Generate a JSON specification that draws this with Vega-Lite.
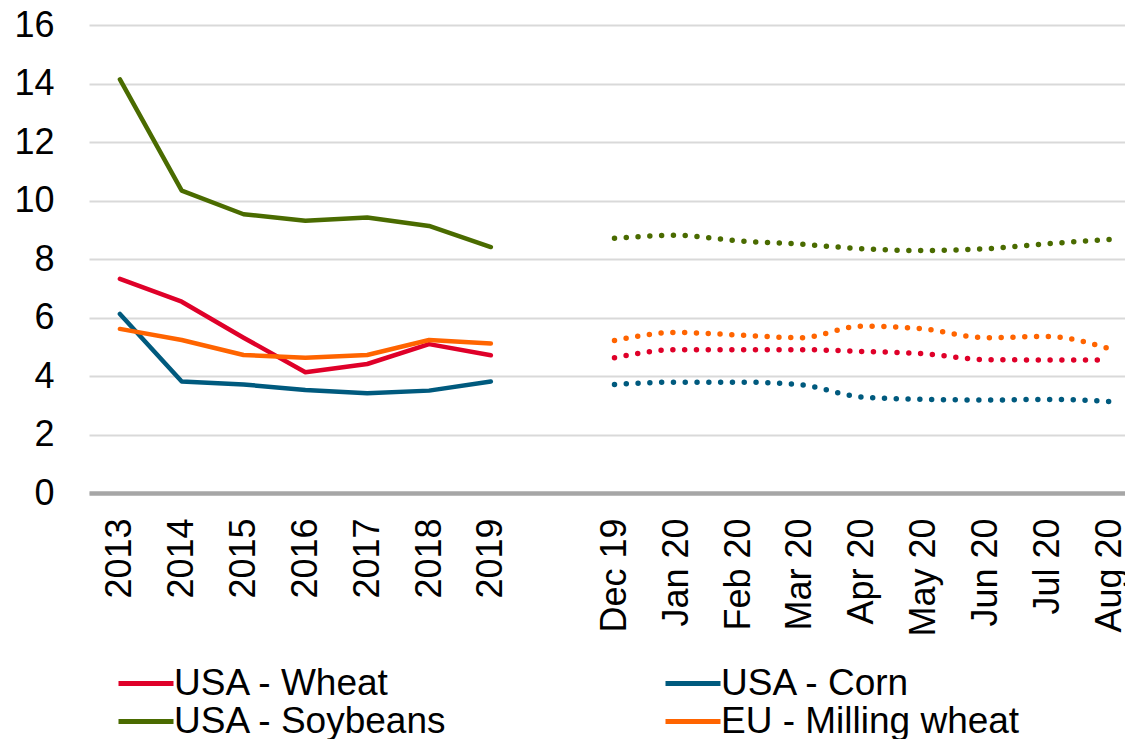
{
  "$schema": "https://vega.github.io/schema/vega-lite/v6.json",
  "width": 1051,
  "height": 468,
  "padding": {"left": 13, "top": 7, "right": 0, "bottom": 0},
  "background": "white",
  "config": {
    "view": {"stroke": null},
    "font": "Liberation Sans",
    "axis": {"labelFont": "Liberation Sans", "labelFontSize": 36, "labelColor": "#000000", "title": null},
    "legend": {"labelFont": "Liberation Sans", "labelFontSize": 37, "labelColor": "#000000"}
  },
  "data": {
    "values": [
      {"series": "USA - Wheat", "period": "2013", "kind": "annual", "value": 7.32},
      {"series": "USA - Wheat", "period": "2014", "kind": "annual", "value": 6.54},
      {"series": "USA - Wheat", "period": "2015", "kind": "annual", "value": 5.31},
      {"series": "USA - Wheat", "period": "2016", "kind": "annual", "value": 4.13},
      {"series": "USA - Wheat", "period": "2017", "kind": "annual", "value": 4.41},
      {"series": "USA - Wheat", "period": "2018", "kind": "annual", "value": 5.09},
      {"series": "USA - Wheat", "period": "2019", "kind": "annual", "value": 4.71},
      {"series": "USA - Corn", "period": "2013", "kind": "annual", "value": 6.12},
      {"series": "USA - Corn", "period": "2014", "kind": "annual", "value": 3.81},
      {"series": "USA - Corn", "period": "2015", "kind": "annual", "value": 3.71},
      {"series": "USA - Corn", "period": "2016", "kind": "annual", "value": 3.52},
      {"series": "USA - Corn", "period": "2017", "kind": "annual", "value": 3.41},
      {"series": "USA - Corn", "period": "2018", "kind": "annual", "value": 3.50},
      {"series": "USA - Corn", "period": "2019", "kind": "annual", "value": 3.81},
      {"series": "USA - Soybeans", "period": "2013", "kind": "annual", "value": 14.14},
      {"series": "USA - Soybeans", "period": "2014", "kind": "annual", "value": 10.34},
      {"series": "USA - Soybeans", "period": "2015", "kind": "annual", "value": 9.53},
      {"series": "USA - Soybeans", "period": "2016", "kind": "annual", "value": 9.31},
      {"series": "USA - Soybeans", "period": "2017", "kind": "annual", "value": 9.42},
      {"series": "USA - Soybeans", "period": "2018", "kind": "annual", "value": 9.13},
      {"series": "USA - Soybeans", "period": "2019", "kind": "annual", "value": 8.41},
      {"series": "EU - Milling wheat", "period": "2013", "kind": "annual", "value": 5.61},
      {"series": "EU - Milling wheat", "period": "2014", "kind": "annual", "value": 5.23},
      {"series": "EU - Milling wheat", "period": "2015", "kind": "annual", "value": 4.72},
      {"series": "EU - Milling wheat", "period": "2016", "kind": "annual", "value": 4.62},
      {"series": "EU - Milling wheat", "period": "2017", "kind": "annual", "value": 4.72},
      {"series": "EU - Milling wheat", "period": "2018", "kind": "annual", "value": 5.23},
      {"series": "EU - Milling wheat", "period": "2019", "kind": "annual", "value": 5.11},
      {"series": "USA - Wheat", "period": "Dec 19", "kind": "monthly", "value": 4.62},
      {"series": "USA - Wheat", "period": "Jan 20", "kind": "monthly", "value": 4.90},
      {"series": "USA - Wheat", "period": "Feb 20", "kind": "monthly", "value": 4.90},
      {"series": "USA - Wheat", "period": "Mar 20", "kind": "monthly", "value": 4.90},
      {"series": "USA - Wheat", "period": "Apr 20", "kind": "monthly", "value": 4.84},
      {"series": "USA - Wheat", "period": "May 20", "kind": "monthly", "value": 4.76},
      {"series": "USA - Wheat", "period": "Jun 20", "kind": "monthly", "value": 4.56},
      {"series": "USA - Wheat", "period": "Jul 20", "kind": "monthly", "value": 4.55},
      {"series": "USA - Wheat", "period": "Aug 20", "kind": "monthly", "value": 4.55},
      {"series": "USA - Corn", "period": "Dec 19", "kind": "monthly", "value": 3.71},
      {"series": "USA - Corn", "period": "Jan 20", "kind": "monthly", "value": 3.79},
      {"series": "USA - Corn", "period": "Feb 20", "kind": "monthly", "value": 3.79},
      {"series": "USA - Corn", "period": "Mar 20", "kind": "monthly", "value": 3.70},
      {"series": "USA - Corn", "period": "Apr 20", "kind": "monthly", "value": 3.28},
      {"series": "USA - Corn", "period": "May 20", "kind": "monthly", "value": 3.20},
      {"series": "USA - Corn", "period": "Jun 20", "kind": "monthly", "value": 3.18},
      {"series": "USA - Corn", "period": "Jul 20", "kind": "monthly", "value": 3.20},
      {"series": "USA - Corn", "period": "Aug 20", "kind": "monthly", "value": 3.13},
      {"series": "USA - Soybeans", "period": "Dec 19", "kind": "monthly", "value": 8.71},
      {"series": "USA - Soybeans", "period": "Jan 20", "kind": "monthly", "value": 8.81},
      {"series": "USA - Soybeans", "period": "Feb 20", "kind": "monthly", "value": 8.62},
      {"series": "USA - Soybeans", "period": "Mar 20", "kind": "monthly", "value": 8.51},
      {"series": "USA - Soybeans", "period": "Apr 20", "kind": "monthly", "value": 8.35},
      {"series": "USA - Soybeans", "period": "May 20", "kind": "monthly", "value": 8.29},
      {"series": "USA - Soybeans", "period": "Jun 20", "kind": "monthly", "value": 8.35},
      {"series": "USA - Soybeans", "period": "Jul 20", "kind": "monthly", "value": 8.52},
      {"series": "USA - Soybeans", "period": "Aug 20", "kind": "monthly", "value": 8.67},
      {"series": "EU - Milling wheat", "period": "Dec 19", "kind": "monthly", "value": 5.21},
      {"series": "EU - Milling wheat", "period": "Jan 20", "kind": "monthly", "value": 5.49},
      {"series": "EU - Milling wheat", "period": "Feb 20", "kind": "monthly", "value": 5.40},
      {"series": "EU - Milling wheat", "period": "Mar 20", "kind": "monthly", "value": 5.31},
      {"series": "EU - Milling wheat", "period": "Apr 20", "kind": "monthly", "value": 5.70},
      {"series": "EU - Milling wheat", "period": "May 20", "kind": "monthly", "value": 5.61},
      {"series": "EU - Milling wheat", "period": "Jun 20", "kind": "monthly", "value": 5.31},
      {"series": "EU - Milling wheat", "period": "Jul 20", "kind": "monthly", "value": 5.35},
      {"series": "EU - Milling wheat", "period": "Aug 20", "kind": "monthly", "value": 4.94}
    ]
  },
  "encoding": {
    "x": {
      "field": "period",
      "type": "ordinal",
      "sort": null,
      "scale": {
        "type": "point",
        "padding": 0.5,
        "domain": ["2013", "2014", "2015", "2016", "2017", "2018", "2019", " ", "Dec 19", "Jan 20", "Feb 20", "Mar 20", "Apr 20", "May 20", "Jun 20", "Jul 20", "Aug 20"]
      },
      "axis": {
        "labelAngle": -90,
        "labelPadding": 25,
        "ticks": false,
        "grid": false,
        "domain": true,
        "domainColor": "#A6A6A6",
        "domainWidth": 4.5,
        "labelBound": false,
        "labelOverlap": false
      }
    },
    "y": {
      "field": "value",
      "type": "quantitative",
      "scale": {"domain": [0, 16], "nice": false, "zero": true},
      "axis": {
        "values": [0, 2, 4, 6, 8, 10, 12, 14, 16],
        "domain": false,
        "ticks": false,
        "grid": true,
        "gridColor": "#D9D9D9",
        "gridWidth": 2,
        "labelPadding": 35
      }
    },
    "color": {
      "field": "series",
      "type": "nominal",
      "scale": {
        "domain": ["USA - Wheat", "USA - Corn", "USA - Soybeans", "EU - Milling wheat"],
        "range": ["#DF0029", "#005A7E", "#4A6B00", "#FF6400"]
      },
      "legend": {
        "orient": "none",
        "direction": "horizontal",
        "legendX": 27,
        "legendY": 640,
        "columns": 2,
        "columnPadding": 215,
        "rowPadding": 0,
        "clipHeight": 37,
        "title": null,
        "symbolType": "stroke",
        "symbolSize": 3025,
        "symbolStrokeWidth": 5,
        "labelOffset": -2,
        "labelLimit": 0,
        "padding": 0
      }
    }
  },
  "layer": [
    {
      "transform": [{"filter": "datum.kind == 'annual'"}],
      "mark": {"type": "line", "strokeWidth": 4.5, "strokeCap": "round", "strokeJoin": "round"}
    },
    {
      "transform": [{"filter": "datum.kind == 'monthly'"}],
      "mark": {"type": "line", "strokeWidth": 5.5, "strokeCap": "round", "strokeDash": [0, 11.8], "interpolate": "monotone"}
    }
  ]
}
